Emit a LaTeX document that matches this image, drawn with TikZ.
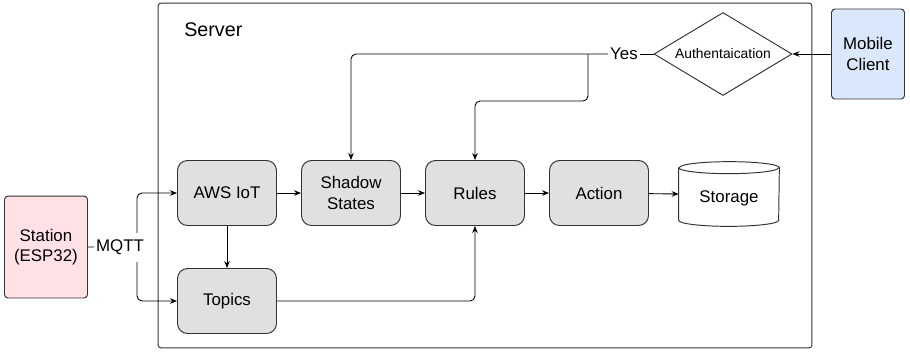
\documentclass[tikz,border=0pt]{standalone}
\usepackage{fontspec}
\setmainfont{Liberation Sans}
\usetikzlibrary{arrows.meta, positioning, shapes.geometric}
\definecolor{svBox}{HTML}{E0E0E0}
\definecolor{svLine}{HTML}{333333}
\definecolor{svStation}{HTML}{FFE1E6}
\definecolor{svClient}{HTML}{DAE8FC}

\begin{document}
\begin{tikzpicture}[
  x=0.02cm, y=-0.02cm,
  block/.style={draw=svLine, fill=svBox, rounded corners=0.2cm, minimum width=1.98cm,
                minimum height=1.3cm, align=center, font=\fontsize{9.6}{11.5}\selectfont,
                line width=0.55pt},
  device/.style={draw=svLine, rounded corners=0.07cm, align=center,
                 font=\fontsize{9.6}{11.5}\selectfont, line width=0.55pt},
  decision/.style={draw=svLine, diamond, inner sep=0pt, minimum width=2.76cm,
                   minimum height=1.66cm, aspect=1.66, font=\fontsize{7.9}{9.5}\selectfont,
                   line width=0.55pt},
  frame/.style={draw=svLine, rounded corners=0.06cm, line width=0.55pt},
  arr/.style={-{Stealth[length=0.14cm, width=0.11cm]}, line width=0.5pt, rounded corners=0.1cm},
  lab/.style={fill=white, inner sep=1pt, font=\fontsize{9.6}{11.5}\selectfont}
]
  \useasboundingbox (0,0) rectangle (910,353);

  % server frame
  \node[frame, minimum width=13.08cm, minimum height=6.9cm] (server) at (485,175.5) {};
  \node[anchor=west, inner sep=0pt, font=\fontsize{11.2}{13}\selectfont] (srvname) at (184,30) {Server};

  \node[device, fill=svStation, minimum width=1.66cm, minimum height=2.04cm] (station) at (46,247) {Station\\(ESP32)};
  \node[device, fill=svClient, minimum width=1.46cm, minimum height=1.8cm] (mobile) at (868,54) {Mobile\\Client};

  \node[block] (aws) at (227,193) {AWS IoT};
  \node[block] (topics) at (227,301) {Topics};
  \node[block] (shadow) at (351,193) {Shadow\\States};
  \node[block] (rules) at (475,193) {Rules};
  \node[block] (action) at (599,193) {Action};
  \node[minimum width=2cm, minimum height=1.28cm, inner sep=0pt,
        font=\fontsize{9.6}{11.5}\selectfont] (storage) at (729,194) {};
  \node[decision] (auth) at (723,54) {Authentaication};

  % storage drum
  \draw[draw=svLine, fill=white, line width=0.55pt]
    ([yshift=-0.12cm]storage.north west) -- ([yshift=0.12cm]storage.south west)
    arc[start angle=180, end angle=360, x radius=1cm, y radius=0.12cm]
    -- ([yshift=-0.12cm]storage.north east)
    arc[start angle=0, end angle=180, x radius=1cm, y radius=0.12cm];
  \draw[draw=svLine, line width=0.55pt]
    ([yshift=-0.12cm]storage.north west)
    arc[start angle=180, end angle=360, x radius=1cm, y radius=0.12cm];
  \node[font=\fontsize{9.6}{11.5}\selectfont] (storetxt) at (729,198) {Storage};

  \coordinate (split) at (137,247);
  \coordinate (fork) at (588,54);
  \coordinate (turn) at (588,101);

  \draw[arr] (station.east) -- (split) |- (aws.west);
  \draw[arr] (split) |- (topics.west);
  \node[lab, minimum height=0.58cm] (mqtt) at (120,247) {MQTT};

  \draw[arr] (aws) -- (topics);
  \draw[arr] (aws) -- (shadow);
  \draw[arr] (shadow) -- (rules);
  \draw[arr] (rules) -- (action);
  \draw[arr] (action) -- (storage.west);
  \draw[arr] (topics.east) -| (rules.south);

  \draw[arr] (mobile.west) -- (auth.east);
  \node[lab] (yes) at (624,54) {Yes};
  \draw[line width=0.5pt] (auth.west) -- (yes.east);
  \draw[arr] (yes.west) -| (shadow.north);
  \draw[arr] (fork) -- (turn) -| (rules.north);
\end{tikzpicture}
\end{document}
